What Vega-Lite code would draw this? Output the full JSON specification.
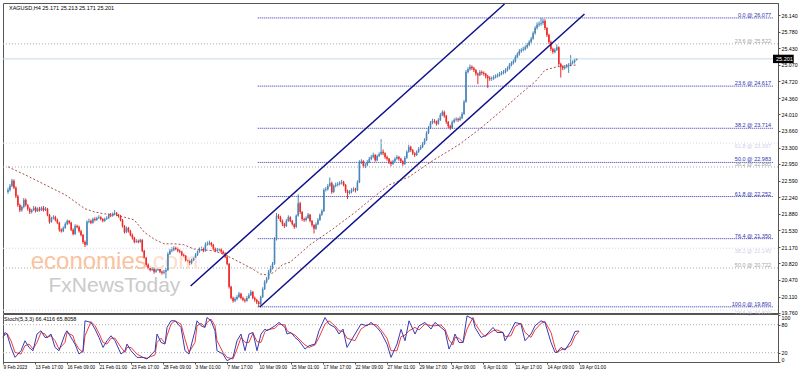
{
"$schema":"https://vega.github.io/schema/vega-lite/v6.json",
"padding":0,
"spacing":1,
"bounds":"flush",
"background":"white",
"config":{"view":{"stroke":"#555","strokeWidth":1},"axis":{"grid":false,"labelFont":"Liberation Sans","labelFontSize":5.3,"labelColor":"#000000","tickSize":2,"tickColor":"#555555","domainColor":"#555555","labelOverlap":false,"labelFlush":false,"labelBound":false}},
"datasets":{
"bars":[
{"i":0,"o":22.35,"h":22.44,"l":22.31,"c":22.39},{"i":1,"o":22.39,"h":22.52,"l":22.36,"c":22.48},{"i":2,"o":22.48,"h":22.63,"l":22.45,"c":22.59},{"i":3,"o":22.59,"h":22.62,"l":22.41,"c":22.44},{"i":4,"o":22.44,"h":22.47,"l":22.22,"c":22.26},{"i":5,"o":22.26,"h":22.29,"l":22.03,"c":22.07},{"i":6,"o":22.07,"h":22.10,"l":21.92,"c":21.96},{"i":7,"o":21.96,"h":22.06,"l":21.93,"c":22.03},{"i":8,"o":22.03,"h":22.22,"l":22.00,"c":22.18},{"i":9,"o":22.18,"h":22.21,"l":22.04,"c":22.07},
{"i":10,"o":22.07,"h":22.09,"l":21.95,"c":21.99},{"i":11,"o":21.99,"h":22.02,"l":21.88,"c":21.92},{"i":12,"o":21.92,"h":21.99,"l":21.89,"c":21.96},{"i":13,"o":21.96,"h":22.05,"l":21.94,"c":22.01},{"i":14,"o":22.01,"h":22.04,"l":21.91,"c":21.94},{"i":15,"o":21.94,"h":22.02,"l":21.92,"c":21.99},{"i":16,"o":21.99,"h":22.03,"l":21.93,"c":21.96},{"i":17,"o":21.96,"h":22.04,"l":21.94,"c":22.01},{"i":18,"o":22.01,"h":22.05,"l":21.93,"c":21.96},{"i":19,"o":21.96,"h":22.03,"l":21.94,"c":21.99},
{"i":20,"o":21.99,"h":22.01,"l":21.83,"c":21.86},{"i":21,"o":21.86,"h":21.88,"l":21.67,"c":21.71},{"i":22,"o":21.71,"h":21.82,"l":21.69,"c":21.79},{"i":23,"o":21.79,"h":21.85,"l":21.76,"c":21.81},{"i":24,"o":21.81,"h":21.84,"l":21.72,"c":21.75},{"i":25,"o":21.75,"h":21.78,"l":21.66,"c":21.69},{"i":26,"o":21.69,"h":21.71,"l":21.50,"c":21.54},{"i":27,"o":21.54,"h":21.57,"l":21.48,"c":21.51},{"i":28,"o":21.51,"h":21.61,"l":21.49,"c":21.58},{"i":29,"o":21.58,"h":21.70,"l":21.56,"c":21.66},
{"i":30,"o":21.66,"h":21.76,"l":21.64,"c":21.73},{"i":31,"o":21.73,"h":21.75,"l":21.66,"c":21.69},{"i":32,"o":21.69,"h":21.71,"l":21.51,"c":21.54},{"i":33,"o":21.54,"h":21.57,"l":21.42,"c":21.45},{"i":34,"o":21.45,"h":21.66,"l":21.43,"c":21.62},{"i":35,"o":21.62,"h":21.65,"l":21.57,"c":21.60},{"i":36,"o":21.60,"h":21.63,"l":21.48,"c":21.51},{"i":37,"o":21.51,"h":21.54,"l":21.40,"c":21.43},{"i":38,"o":21.43,"h":21.45,"l":21.24,"c":21.28},{"i":39,"o":21.28,"h":21.31,"l":21.17,"c":21.22},
{"i":40,"o":21.22,"h":21.74,"l":21.20,"c":21.71},{"i":41,"o":21.71,"h":21.78,"l":21.68,"c":21.73},{"i":42,"o":21.73,"h":21.76,"l":21.66,"c":21.69},{"i":43,"o":21.69,"h":21.80,"l":21.67,"c":21.77},{"i":44,"o":21.77,"h":21.81,"l":21.72,"c":21.75},{"i":45,"o":21.75,"h":21.82,"l":21.73,"c":21.79},{"i":46,"o":21.79,"h":21.85,"l":21.77,"c":21.81},{"i":47,"o":21.81,"h":21.83,"l":21.74,"c":21.77},{"i":48,"o":21.77,"h":21.79,"l":21.70,"c":21.73},{"i":49,"o":21.73,"h":21.80,"l":21.71,"c":21.77},
{"i":50,"o":21.77,"h":21.83,"l":21.75,"c":21.79},{"i":51,"o":21.79,"h":21.89,"l":21.77,"c":21.86},{"i":52,"o":21.86,"h":21.90,"l":21.81,"c":21.84},{"i":53,"o":21.84,"h":21.91,"l":21.82,"c":21.88},{"i":54,"o":21.88,"h":21.96,"l":21.85,"c":21.90},{"i":55,"o":21.90,"h":21.92,"l":21.83,"c":21.86},{"i":56,"o":21.86,"h":21.88,"l":21.80,"c":21.84},{"i":57,"o":21.84,"h":21.86,"l":21.72,"c":21.75},{"i":58,"o":21.75,"h":21.77,"l":21.59,"c":21.62},{"i":59,"o":21.62,"h":21.64,"l":21.46,"c":21.49},
{"i":60,"o":21.49,"h":21.61,"l":21.47,"c":21.58},{"i":61,"o":21.58,"h":21.60,"l":21.48,"c":21.51},{"i":62,"o":21.51,"h":21.54,"l":21.40,"c":21.43},{"i":63,"o":21.43,"h":21.46,"l":21.33,"c":21.37},{"i":64,"o":21.37,"h":21.39,"l":21.25,"c":21.28},{"i":65,"o":21.28,"h":21.34,"l":21.26,"c":21.30},{"i":66,"o":21.30,"h":21.33,"l":21.25,"c":21.28},{"i":67,"o":21.28,"h":21.35,"l":21.26,"c":21.32},{"i":68,"o":21.32,"h":21.34,"l":21.06,"c":21.09},{"i":69,"o":21.09,"h":21.11,"l":20.91,"c":20.94},
{"i":70,"o":20.94,"h":20.96,"l":20.75,"c":20.79},{"i":71,"o":20.79,"h":20.82,"l":20.69,"c":20.72},{"i":72,"o":20.72,"h":20.75,"l":20.65,"c":20.68},{"i":73,"o":20.68,"h":20.74,"l":20.66,"c":20.70},{"i":74,"o":20.70,"h":20.73,"l":20.60,"c":20.64},{"i":75,"o":20.64,"h":20.71,"l":20.62,"c":20.68},{"i":76,"o":20.68,"h":20.74,"l":20.66,"c":20.70},{"i":77,"o":20.70,"h":20.72,"l":20.61,"c":20.64},{"i":78,"o":20.64,"h":20.67,"l":20.58,"c":20.62},{"i":79,"o":20.62,"h":20.68,"l":20.59,"c":20.64},
{"i":80,"o":20.64,"h":20.72,"l":20.50,"c":20.68},{"i":81,"o":20.68,"h":21.06,"l":20.66,"c":21.02},{"i":82,"o":21.02,"h":21.13,"l":21.00,"c":21.09},{"i":83,"o":21.09,"h":21.17,"l":21.06,"c":21.11},{"i":84,"o":21.11,"h":21.19,"l":21.08,"c":21.15},{"i":85,"o":21.15,"h":21.18,"l":21.10,"c":21.13},{"i":86,"o":21.13,"h":21.16,"l":21.06,"c":21.09},{"i":87,"o":21.09,"h":21.12,"l":21.04,"c":21.07},{"i":88,"o":21.07,"h":21.09,"l":20.97,"c":21.00},{"i":89,"o":21.00,"h":21.03,"l":20.95,"c":20.98},
{"i":90,"o":20.98,"h":21.00,"l":20.86,"c":20.89},{"i":91,"o":20.89,"h":20.92,"l":20.83,"c":20.87},{"i":92,"o":20.87,"h":20.90,"l":20.78,"c":20.83},{"i":93,"o":20.83,"h":20.92,"l":20.80,"c":20.89},{"i":94,"o":20.89,"h":20.98,"l":20.87,"c":20.94},{"i":95,"o":20.94,"h":21.04,"l":20.92,"c":21.00},{"i":96,"o":21.00,"h":21.10,"l":20.98,"c":21.07},{"i":97,"o":21.07,"h":21.16,"l":21.05,"c":21.11},{"i":98,"o":21.11,"h":21.18,"l":21.09,"c":21.13},{"i":99,"o":21.13,"h":21.16,"l":21.06,"c":21.09},
{"i":100,"o":21.09,"h":21.27,"l":21.07,"c":21.22},{"i":101,"o":21.22,"h":21.29,"l":21.20,"c":21.24},{"i":102,"o":21.24,"h":21.31,"l":21.21,"c":21.26},{"i":103,"o":21.26,"h":21.28,"l":21.18,"c":21.22},{"i":104,"o":21.22,"h":21.24,"l":21.10,"c":21.13},{"i":105,"o":21.13,"h":21.16,"l":21.06,"c":21.09},{"i":106,"o":21.09,"h":21.15,"l":21.07,"c":21.11},{"i":107,"o":21.11,"h":21.15,"l":21.08,"c":21.12},{"i":108,"o":21.12,"h":21.14,"l":21.04,"c":21.07},{"i":109,"o":21.07,"h":21.10,"l":21.01,"c":21.04},
{"i":110,"o":21.04,"h":21.06,"l":20.93,"c":20.96},{"i":111,"o":20.96,"h":21.00,"l":20.78,"c":20.81},{"i":112,"o":20.81,"h":20.83,"l":20.28,"c":20.32},{"i":113,"o":20.32,"h":20.34,"l":20.05,"c":20.08},{"i":114,"o":20.08,"h":20.11,"l":19.98,"c":20.02},{"i":115,"o":20.02,"h":20.10,"l":19.99,"c":20.06},{"i":116,"o":20.06,"h":20.14,"l":20.03,"c":20.10},{"i":117,"o":20.10,"h":20.21,"l":20.08,"c":20.17},{"i":118,"o":20.17,"h":20.19,"l":20.05,"c":20.08},{"i":119,"o":20.08,"h":20.11,"l":20.01,"c":20.04},
{"i":120,"o":20.04,"h":20.07,"l":19.98,"c":20.02},{"i":121,"o":20.02,"h":20.12,"l":20.00,"c":20.08},{"i":122,"o":20.08,"h":20.18,"l":20.06,"c":20.14},{"i":123,"o":20.14,"h":20.25,"l":20.12,"c":20.21},{"i":124,"o":20.21,"h":20.23,"l":20.05,"c":20.08},{"i":125,"o":20.08,"h":20.11,"l":20.00,"c":20.04},{"i":126,"o":20.04,"h":20.06,"l":19.95,"c":19.99},{"i":127,"o":19.99,"h":20.02,"l":19.89,"c":19.95},{"i":128,"o":19.95,"h":20.13,"l":19.93,"c":20.10},{"i":129,"o":20.10,"h":20.31,"l":20.08,"c":20.27},
{"i":130,"o":20.27,"h":20.46,"l":20.25,"c":20.42},{"i":131,"o":20.42,"h":20.53,"l":20.39,"c":20.49},{"i":132,"o":20.49,"h":20.68,"l":20.47,"c":20.64},{"i":133,"o":20.64,"h":20.77,"l":20.61,"c":20.72},{"i":134,"o":20.72,"h":20.85,"l":20.69,"c":20.81},{"i":135,"o":20.81,"h":21.38,"l":20.79,"c":21.34},{"i":136,"o":21.34,"h":21.90,"l":21.31,"c":21.84},{"i":137,"o":21.84,"h":21.88,"l":21.77,"c":21.81},{"i":138,"o":21.81,"h":21.84,"l":21.70,"c":21.73},{"i":139,"o":21.73,"h":21.76,"l":21.62,"c":21.66},
{"i":140,"o":21.66,"h":21.69,"l":21.58,"c":21.62},{"i":141,"o":21.62,"h":21.77,"l":21.60,"c":21.73},{"i":142,"o":21.73,"h":21.85,"l":21.71,"c":21.81},{"i":143,"o":21.81,"h":21.83,"l":21.70,"c":21.73},{"i":144,"o":21.73,"h":21.75,"l":21.63,"c":21.66},{"i":145,"o":21.66,"h":21.68,"l":21.56,"c":21.60},{"i":146,"o":21.60,"h":21.87,"l":21.58,"c":21.84},{"i":147,"o":21.84,"h":22.30,"l":21.82,"c":22.11},{"i":148,"o":22.11,"h":22.14,"l":21.88,"c":21.92},{"i":149,"o":21.92,"h":21.94,"l":21.73,"c":21.77},
{"i":150,"o":21.77,"h":21.80,"l":21.71,"c":21.75},{"i":151,"o":21.75,"h":21.83,"l":21.72,"c":21.79},{"i":152,"o":21.79,"h":21.90,"l":21.77,"c":21.86},{"i":153,"o":21.86,"h":21.88,"l":21.70,"c":21.73},{"i":154,"o":21.73,"h":21.75,"l":21.60,"c":21.64},{"i":155,"o":21.64,"h":21.66,"l":21.46,"c":21.56},{"i":156,"o":21.56,"h":21.70,"l":21.54,"c":21.66},{"i":157,"o":21.66,"h":21.79,"l":21.64,"c":21.75},{"i":158,"o":21.75,"h":21.89,"l":21.73,"c":21.86},{"i":159,"o":21.86,"h":21.98,"l":21.84,"c":21.94},
{"i":160,"o":21.94,"h":22.43,"l":21.92,"c":22.39},{"i":161,"o":22.39,"h":22.46,"l":22.36,"c":22.41},{"i":162,"o":22.41,"h":22.52,"l":22.38,"c":22.48},{"i":163,"o":22.48,"h":22.66,"l":22.46,"c":22.54},{"i":164,"o":22.54,"h":22.57,"l":22.31,"c":22.35},{"i":165,"o":22.35,"h":22.51,"l":22.33,"c":22.48},{"i":166,"o":22.48,"h":22.55,"l":22.45,"c":22.50},{"i":167,"o":22.50,"h":22.56,"l":22.47,"c":22.52},{"i":168,"o":22.52,"h":22.58,"l":22.49,"c":22.54},{"i":169,"o":22.54,"h":22.61,"l":22.51,"c":22.56},
{"i":170,"o":22.56,"h":22.59,"l":22.47,"c":22.50},{"i":171,"o":22.50,"h":22.52,"l":22.33,"c":22.37},{"i":172,"o":22.37,"h":22.40,"l":22.20,"c":22.33},{"i":173,"o":22.33,"h":22.39,"l":22.30,"c":22.35},{"i":174,"o":22.35,"h":22.43,"l":22.32,"c":22.39},{"i":175,"o":22.39,"h":22.45,"l":22.36,"c":22.41},{"i":176,"o":22.41,"h":22.44,"l":22.34,"c":22.39},{"i":177,"o":22.39,"h":22.60,"l":22.37,"c":22.56},{"i":178,"o":22.56,"h":23.03,"l":22.54,"c":22.99},{"i":179,"o":22.99,"h":23.05,"l":22.95,"c":23.01},
{"i":180,"o":23.01,"h":23.03,"l":22.87,"c":22.91},{"i":181,"o":22.91,"h":22.97,"l":22.86,"c":22.93},{"i":182,"o":22.93,"h":23.03,"l":22.90,"c":22.99},{"i":183,"o":22.99,"h":23.10,"l":22.97,"c":23.06},{"i":184,"o":23.06,"h":23.14,"l":23.03,"c":23.10},{"i":185,"o":23.10,"h":23.19,"l":23.07,"c":23.14},{"i":186,"o":23.14,"h":23.16,"l":23.00,"c":23.03},{"i":187,"o":23.03,"h":23.15,"l":23.01,"c":23.12},{"i":188,"o":23.12,"h":23.20,"l":23.10,"c":23.16},{"i":189,"o":23.16,"h":23.48,"l":23.14,"c":23.21},
{"i":190,"o":23.21,"h":23.26,"l":23.14,"c":23.18},{"i":191,"o":23.18,"h":23.20,"l":23.06,"c":23.10},{"i":192,"o":23.10,"h":23.13,"l":23.02,"c":23.06},{"i":193,"o":23.06,"h":23.08,"l":22.95,"c":22.99},{"i":194,"o":22.99,"h":23.02,"l":22.90,"c":22.95},{"i":195,"o":22.95,"h":23.04,"l":22.93,"c":23.01},{"i":196,"o":23.01,"h":23.09,"l":22.99,"c":23.06},{"i":197,"o":23.06,"h":23.14,"l":23.04,"c":23.10},{"i":198,"o":23.10,"h":23.12,"l":23.02,"c":23.06},{"i":199,"o":23.06,"h":23.08,"l":22.97,"c":23.01},
{"i":200,"o":23.01,"h":23.03,"l":22.91,"c":22.95},{"i":201,"o":22.95,"h":23.12,"l":22.93,"c":23.08},{"i":202,"o":23.08,"h":23.24,"l":23.06,"c":23.21},{"i":203,"o":23.21,"h":23.36,"l":23.19,"c":23.31},{"i":204,"o":23.31,"h":23.34,"l":23.21,"c":23.25},{"i":205,"o":23.25,"h":23.27,"l":23.14,"c":23.18},{"i":206,"o":23.18,"h":23.20,"l":23.10,"c":23.14},{"i":207,"o":23.14,"h":23.24,"l":23.12,"c":23.21},{"i":208,"o":23.21,"h":23.31,"l":23.19,"c":23.27},{"i":209,"o":23.27,"h":23.35,"l":23.25,"c":23.31},
{"i":210,"o":23.31,"h":23.42,"l":23.29,"c":23.38},{"i":211,"o":23.38,"h":23.50,"l":23.36,"c":23.46},{"i":212,"o":23.46,"h":23.65,"l":23.44,"c":23.61},{"i":213,"o":23.61,"h":23.76,"l":23.59,"c":23.72},{"i":214,"o":23.72,"h":23.87,"l":23.70,"c":23.83},{"i":215,"o":23.83,"h":23.92,"l":23.80,"c":23.87},{"i":216,"o":23.87,"h":23.91,"l":23.82,"c":23.86},{"i":217,"o":23.86,"h":23.88,"l":23.77,"c":23.81},{"i":218,"o":23.81,"h":23.93,"l":23.79,"c":23.89},{"i":219,"o":23.89,"h":24.04,"l":23.87,"c":24.00},
{"i":220,"o":24.00,"h":24.10,"l":23.97,"c":24.06},{"i":221,"o":24.06,"h":24.09,"l":23.94,"c":23.98},{"i":222,"o":23.98,"h":24.00,"l":23.81,"c":23.85},{"i":223,"o":23.85,"h":23.87,"l":23.72,"c":23.76},{"i":224,"o":23.76,"h":23.79,"l":23.68,"c":23.72},{"i":225,"o":23.72,"h":23.88,"l":23.70,"c":23.85},{"i":226,"o":23.85,"h":23.93,"l":23.82,"c":23.89},{"i":227,"o":23.89,"h":23.95,"l":23.86,"c":23.91},{"i":228,"o":23.91,"h":23.94,"l":23.85,"c":23.89},{"i":229,"o":23.89,"h":23.97,"l":23.87,"c":23.93},
{"i":230,"o":23.93,"h":24.06,"l":23.91,"c":24.02},{"i":231,"o":24.02,"h":24.32,"l":24.00,"c":24.28},{"i":232,"o":24.28,"h":24.96,"l":24.26,"c":24.92},{"i":233,"o":24.92,"h":25.02,"l":24.89,"c":24.98},{"i":234,"o":24.98,"h":25.08,"l":24.95,"c":25.03},{"i":235,"o":25.03,"h":25.06,"l":24.96,"c":25.00},{"i":236,"o":25.00,"h":25.03,"l":24.92,"c":24.96},{"i":237,"o":24.96,"h":24.98,"l":24.84,"c":24.88},{"i":238,"o":24.88,"h":24.91,"l":24.66,"c":24.85},{"i":239,"o":24.85,"h":24.96,"l":24.83,"c":24.92},
{"i":240,"o":24.92,"h":24.95,"l":24.86,"c":24.90},{"i":241,"o":24.90,"h":24.93,"l":24.84,"c":24.88},{"i":242,"o":24.88,"h":24.90,"l":24.78,"c":24.83},{"i":243,"o":24.83,"h":24.86,"l":24.58,"c":24.79},{"i":244,"o":24.79,"h":24.83,"l":24.73,"c":24.77},{"i":245,"o":24.77,"h":24.82,"l":24.73,"c":24.78},{"i":246,"o":24.78,"h":24.85,"l":24.75,"c":24.81},{"i":247,"o":24.81,"h":24.87,"l":24.78,"c":24.83},{"i":248,"o":24.83,"h":24.89,"l":24.80,"c":24.85},{"i":249,"o":24.85,"h":24.92,"l":24.82,"c":24.88},
{"i":250,"o":24.88,"h":24.94,"l":24.85,"c":24.90},{"i":251,"o":24.90,"h":24.96,"l":24.87,"c":24.92},{"i":252,"o":24.92,"h":25.00,"l":24.89,"c":24.96},{"i":253,"o":24.96,"h":25.04,"l":24.93,"c":25.00},{"i":254,"o":25.00,"h":25.11,"l":24.97,"c":25.07},{"i":255,"o":25.07,"h":25.15,"l":25.04,"c":25.11},{"i":256,"o":25.11,"h":25.19,"l":25.08,"c":25.15},{"i":257,"o":25.15,"h":25.28,"l":25.12,"c":25.24},{"i":258,"o":25.24,"h":25.34,"l":25.21,"c":25.30},{"i":259,"o":25.30,"h":25.41,"l":25.27,"c":25.37},
{"i":260,"o":25.37,"h":25.43,"l":25.33,"c":25.39},{"i":261,"o":25.39,"h":25.46,"l":25.36,"c":25.41},{"i":262,"o":25.41,"h":25.49,"l":25.38,"c":25.45},{"i":263,"o":25.45,"h":25.54,"l":25.42,"c":25.50},{"i":264,"o":25.50,"h":25.60,"l":25.47,"c":25.56},{"i":265,"o":25.56,"h":25.67,"l":25.53,"c":25.63},{"i":266,"o":25.63,"h":25.79,"l":25.61,"c":25.75},{"i":267,"o":25.75,"h":25.90,"l":25.72,"c":25.86},{"i":268,"o":25.86,"h":25.98,"l":25.83,"c":25.93},{"i":269,"o":25.93,"h":26.00,"l":25.89,"c":25.95},
{"i":270,"o":25.95,"h":26.077,"l":25.91,"c":25.97},{"i":271,"o":25.97,"h":26.06,"l":25.93,"c":26.01},{"i":272,"o":26.01,"h":26.05,"l":25.82,"c":25.86},{"i":273,"o":25.86,"h":25.88,"l":25.67,"c":25.71},{"i":274,"o":25.71,"h":25.74,"l":25.52,"c":25.56},{"i":275,"o":25.56,"h":25.59,"l":25.37,"c":25.41},{"i":276,"o":25.41,"h":25.44,"l":25.31,"c":25.35},{"i":277,"o":25.35,"h":25.43,"l":25.32,"c":25.39},{"i":278,"o":25.39,"h":25.51,"l":25.37,"c":25.45},{"i":279,"o":25.45,"h":25.47,"l":25.05,"c":25.09},
{"i":280,"o":25.09,"h":25.12,"l":24.80,"c":25.03},{"i":281,"o":25.03,"h":25.06,"l":24.96,"c":25.00},{"i":282,"o":25.00,"h":25.07,"l":24.97,"c":25.03},{"i":283,"o":25.03,"h":25.09,"l":25.00,"c":25.05},{"i":284,"o":25.05,"h":25.11,"l":24.90,"c":25.07},{"i":285,"o":25.07,"h":25.28,"l":25.04,"c":25.11},{"i":286,"o":25.11,"h":25.17,"l":25.08,"c":25.13},{"i":287,"o":25.13,"h":25.21,"l":25.10,"c":25.171},{"i":288,"o":25.171,"h":25.213,"l":25.171,"c":25.201}
],
"ma":[
{"i":0,"p":22.89},{"i":9,"p":22.71},{"i":19,"p":22.50},{"i":29,"p":22.29},{"i":39,"p":21.99},{"i":44,"p":21.92},{"i":49,"p":21.88},{"i":54,"p":21.86},{"i":59,"p":21.81},{"i":64,"p":21.75},{"i":69,"p":21.49},{"i":74,"p":21.34},{"i":79,"p":21.24},{"i":84,"p":21.24},{"i":89,"p":21.22},{"i":94,"p":21.13},{"i":99,"p":21.11},{"i":104,"p":21.09},{"i":109,"p":21.02},{"i":114,"p":20.92},{"i":119,"p":20.81},{"i":124,"p":20.70},{"i":128,"p":20.59},{"i":132,"p":20.57},{"i":135,"p":20.64},{"i":139,"p":20.79},{"i":143,"p":20.85},{"i":153,"p":21.22},{"i":164,"p":21.54},{"i":176,"p":21.92},{"i":184,"p":22.20},{"i":193,"p":22.50},{"i":203,"p":22.67},{"i":214,"p":22.99},{"i":229,"p":23.38},{"i":239,"p":23.70},{"i":251,"p":24.13},{"i":259,"p":24.43},{"i":267,"p":24.71},{"i":272,"p":24.96},{"i":278,"p":25.03},{"i":288,"p":25.07}
],
"channel":[
{"line":"upper","i":92.5,"p":20.337},{"line":"upper","i":251.5,"p":26.375},{"line":"lower","i":127.5,"p":19.887},{"line":"lower","i":292,"p":26.161}
],
"fibBlue":[
{"p":26.077,"t":"0.0 @ 26.077"},{"p":24.617,"t":"23.6 @ 24.617"},{"p":23.714,"t":"38.2 @ 23.714"},{"p":22.983,"t":"50.0 @ 22.983"},{"p":22.252,"t":"61.8 @ 22.252"},{"p":21.350,"t":"76.4 @ 21.350"},{"p":19.890,"t":"100.0 @ 19.890"}
],
"fibGrey":[
{"p":25.522,"t":"23.6 @ 25.522"},{"p":22.885,"t":"38.2 @ 22.885"},{"p":20.722,"t":"50.0 @ 20.722"}
],
"fibFaint":[
{"p":23.397,"t":"61.8 @ 23.397"},{"p":21.145,"t":"38.2 @ 21.145"},{"p":19.82,"t":"23.6 @ 19.820"}
],
"stochK":[
{"i":0,"v":52.7},{"i":1,"v":63.4},{"i":2,"v":60},{"i":4,"v":31.3},{"i":6,"v":9.9},{"i":9,"v":24.2},{"i":11,"v":45.6},{"i":13,"v":31.3},{"i":15,"v":24.2},{"i":17,"v":60},{"i":19,"v":67},{"i":21,"v":52.7},{"i":22,"v":52.7},{"i":24,"v":60},{"i":26,"v":31.3},{"i":28,"v":24.2},{"i":31,"v":60},{"i":32,"v":67},{"i":35,"v":45.6},{"i":36,"v":38.5},{"i":38,"v":17.1},{"i":40,"v":24.2},{"i":41,"v":88.4},{"i":44,"v":84.9},{"i":46,"v":70.7},{"i":48,"v":52.7},{"i":50,"v":31.3},{"i":52,"v":45.6},{"i":54,"v":56.3},{"i":56,"v":45.6},{"i":59,"v":17.1},{"i":61,"v":24.2},{"i":62,"v":38.5},{"i":64,"v":24.2},{"i":67,"v":9.9},{"i":70,"v":9.9},{"i":72,"v":6.4},{"i":76,"v":24.2},{"i":77,"v":60},{"i":79,"v":42},{"i":81,"v":38.5},{"i":82,"v":74.1},{"i":84,"v":88.4},{"i":86,"v":88.4},{"i":89,"v":74.1},{"i":91,"v":24.2},{"i":93,"v":17.1},{"i":96,"v":67},{"i":97,"v":88.4},{"i":99,"v":77.7},{"i":101,"v":74.1},{"i":102,"v":95.5},{"i":104,"v":88.4},{"i":106,"v":67},{"i":107,"v":24.2},{"i":110,"v":17.1},{"i":112,"v":2.8},{"i":115,"v":9.9},{"i":117,"v":45.6},{"i":119,"v":60},{"i":121,"v":24.2},{"i":123,"v":60},{"i":125,"v":63.4},{"i":127,"v":24.2},{"i":129,"v":60},{"i":131,"v":70.7},{"i":132,"v":67},{"i":136,"v":77.7},{"i":138,"v":84.9},{"i":141,"v":74.1},{"i":142,"v":60},{"i":144,"v":63.4},{"i":146,"v":52.7},{"i":148,"v":45.6},{"i":151,"v":27.8},{"i":153,"v":34.9},{"i":156,"v":38.5},{"i":158,"v":67},{"i":161,"v":95.5},{"i":163,"v":81.4},{"i":166,"v":74.1},{"i":168,"v":60},{"i":170,"v":70.7},{"i":172,"v":31.3},{"i":176,"v":60},{"i":179,"v":81.4},{"i":182,"v":77.7},{"i":184,"v":84.9},{"i":187,"v":74.1},{"i":189,"v":63.4},{"i":192,"v":38.5},{"i":194,"v":9.9},{"i":197,"v":38.5},{"i":199,"v":70},{"i":201,"v":45.6},{"i":203,"v":88.4},{"i":206,"v":60},{"i":208,"v":77.7},{"i":211,"v":84.9},{"i":214,"v":70.7},{"i":216,"v":84.9},{"i":219,"v":74.1},{"i":221,"v":67},{"i":223,"v":27.8},{"i":225,"v":45.6},{"i":226,"v":60},{"i":228,"v":42},{"i":230,"v":42},{"i":232,"v":99},{"i":235,"v":92},{"i":236,"v":74.1},{"i":239,"v":52.7},{"i":241,"v":56.3},{"i":242,"v":60},{"i":245,"v":74.1},{"i":247,"v":63.4},{"i":250,"v":63.4},{"i":251,"v":45.6},{"i":254,"v":67},{"i":256,"v":84.9},{"i":259,"v":81.4},{"i":261,"v":45.6},{"i":264,"v":60},{"i":266,"v":77.7},{"i":269,"v":88.4},{"i":271,"v":84.9},{"i":274,"v":42},{"i":276,"v":20.6},{"i":277,"v":20.6},{"i":279,"v":31.3},{"i":281,"v":25.6},{"i":284,"v":45.6},{"i":286,"v":65.6},{"i":288,"v":66.4}
],
"stochD":[
{"i":0,"v":55},{"i":1,"v":58},{"i":2,"v":61.7},{"i":4,"v":45.7},{"i":6,"v":20.6},{"i":9,"v":17},{"i":11,"v":35},{"i":13,"v":38.5},{"i":15,"v":27.8},{"i":17,"v":42},{"i":19,"v":63.5},{"i":21,"v":60},{"i":22,"v":52.7},{"i":24,"v":56.4},{"i":26,"v":45.7},{"i":28,"v":27.8},{"i":31,"v":42},{"i":32,"v":63.5},{"i":35,"v":56.3},{"i":36,"v":42},{"i":38,"v":27.8},{"i":40,"v":20.6},{"i":41,"v":56.3},{"i":44,"v":86.6},{"i":46,"v":77.8},{"i":48,"v":61.7},{"i":50,"v":42},{"i":52,"v":38.5},{"i":54,"v":51},{"i":56,"v":51},{"i":59,"v":31.3},{"i":61,"v":20.6},{"i":62,"v":31.3},{"i":64,"v":31.3},{"i":67,"v":17},{"i":70,"v":9.9},{"i":72,"v":8.2},{"i":76,"v":15.3},{"i":77,"v":42},{"i":79,"v":51},{"i":81,"v":40.3},{"i":82,"v":56.3},{"i":84,"v":81.3},{"i":86,"v":88.4},{"i":89,"v":81.3},{"i":91,"v":49.2},{"i":93,"v":20.6},{"i":96,"v":42},{"i":97,"v":77.7},{"i":99,"v":83},{"i":101,"v":75.9},{"i":102,"v":84.8},{"i":104,"v":92},{"i":106,"v":77.7},{"i":107,"v":45.6},{"i":110,"v":20.6},{"i":112,"v":10},{"i":115,"v":6.4},{"i":117,"v":27.8},{"i":119,"v":52.8},{"i":121,"v":42.1},{"i":123,"v":42.1},{"i":125,"v":61.7},{"i":127,"v":43.8},{"i":129,"v":42.1},{"i":131,"v":65.4},{"i":132,"v":68.9},{"i":136,"v":72.4},{"i":138,"v":81.3},{"i":141,"v":79.5},{"i":142,"v":67},{"i":144,"v":61.7},{"i":146,"v":58},{"i":148,"v":49.2},{"i":151,"v":36.7},{"i":153,"v":31.3},{"i":156,"v":36.7},{"i":158,"v":52.7},{"i":161,"v":81.3},{"i":163,"v":88.4},{"i":166,"v":77.8},{"i":168,"v":67},{"i":170,"v":65.4},{"i":172,"v":51},{"i":176,"v":45.7},{"i":179,"v":70.7},{"i":182,"v":79.5},{"i":184,"v":81.3},{"i":187,"v":79.5},{"i":189,"v":68.8},{"i":192,"v":51},{"i":194,"v":24.2},{"i":197,"v":24.2},{"i":199,"v":54.3},{"i":201,"v":57.8},{"i":203,"v":67},{"i":206,"v":74.2},{"i":208,"v":68.9},{"i":211,"v":81.3},{"i":214,"v":77.8},{"i":216,"v":77.8},{"i":219,"v":79.5},{"i":221,"v":70.5},{"i":223,"v":47.4},{"i":225,"v":36.7},{"i":226,"v":52.8},{"i":228,"v":51},{"i":230,"v":42},{"i":232,"v":70.5},{"i":235,"v":95.5},{"i":236,"v":83},{"i":239,"v":63.4},{"i":241,"v":54.5},{"i":242,"v":58},{"i":245,"v":67},{"i":247,"v":68.8},{"i":250,"v":63.4},{"i":251,"v":54.5},{"i":254,"v":56.3},{"i":256,"v":76},{"i":259,"v":83.2},{"i":261,"v":63.5},{"i":264,"v":52.8},{"i":266,"v":68.9},{"i":269,"v":83},{"i":271,"v":86.7},{"i":274,"v":63.5},{"i":276,"v":31.3},{"i":277,"v":20.6},{"i":279,"v":26},{"i":281,"v":28.5},{"i":284,"v":35.6},{"i":286,"v":55.6},{"i":288,"v":65.8}
]
},
"vconcat":[
{
"width":775,"height":310,
"resolve":{"axis":{"x":"independent","y":"independent"}},
"layer":[
{"data":{"name":"bars"},"mark":{"type":"rule","strokeWidth":1},"encoding":{"x":{"field":"i","type":"quantitative","scale":{"domain":[0,387.5],"nice":false,"zero":false},"axis":null},"y":{"field":"l","type":"quantitative","scale":{"domain":[19.758,26.397],"nice":false,"zero":false},"title":null,"axis":{"orient":"right","values":[26.14,25.78,25.43,25.07,24.72,24.36,24.01,23.66,23.3,22.95,22.59,22.24,21.88,21.53,21.17,20.82,20.47,20.11,19.76],"format":".3f","title":null,"labelPadding":1,"labelOverlap":false,"labelFlush":false,"labelBound":false}},"y2":{"field":"h"},"color":{"condition":{"test":"datum.c >= datum.o","value":"#4a86b8"},"value":"#f02828"}}},
{"data":{"name":"fibGrey"},"mark":{"type":"rule","color":"#a8a8a8","strokeDash":[1,2],"strokeWidth":1},"encoding":{"y":{"field":"p","type":"quantitative","scale":{"domain":[19.758,26.397],"nice":false,"zero":false},"axis":null}}},
{"data":{"name":"fibFaint"},"mark":{"type":"rule","color":"#d6d6f0","strokeDash":[1,2],"strokeWidth":1},"encoding":{"y":{"field":"p","type":"quantitative","scale":{"domain":[19.758,26.397],"nice":false,"zero":false},"axis":null}}},
{"data":{"name":"fibBlue"},"mark":{"type":"rule","color":"#3030b0","strokeDash":[1,1],"strokeWidth":1},"encoding":{"x":{"datum":126.5,"type":"quantitative","scale":{"domain":[0,387.5],"nice":false,"zero":false},"axis":null},"x2":{"datum":387.5},"y":{"field":"p","type":"quantitative","scale":{"domain":[19.758,26.397],"nice":false,"zero":false},"axis":null}}},
{"data":{"values":[{"p":25.201}]},"mark":{"type":"rule","color":"#c4dce6","strokeWidth":1},"encoding":{"y":{"field":"p","type":"quantitative","scale":{"domain":[19.758,26.397],"nice":false,"zero":false},"axis":null}}},
{"data":{"values":[{"t":"economies","i":11.5,"p":20.69}]},"mark":{"type":"text","align":"left","baseline":"alphabetic","fontSize":24,"font":"Liberation Sans","color":"#f9c3a0"},"encoding":{"x":{"field":"i","type":"quantitative","scale":{"domain":[0,387.5],"nice":false,"zero":false},"axis":null},"y":{"field":"p","type":"quantitative","scale":{"domain":[19.758,26.397],"nice":false,"zero":false},"axis":null},"text":{"field":"t"}}},
{"data":{"values":[{"t":".com","i":70,"p":20.69}]},"mark":{"type":"text","align":"left","baseline":"alphabetic","fontSize":24,"font":"Liberation Sans","color":"#fbe0cf"},"encoding":{"x":{"field":"i","type":"quantitative","scale":{"domain":[0,387.5],"nice":false,"zero":false},"axis":null},"y":{"field":"p","type":"quantitative","scale":{"domain":[19.758,26.397],"nice":false,"zero":false},"axis":null},"text":{"field":"t"}}},
{"data":{"values":[{"t":"FxNewsToday","i":20.5,"p":20.21}]},"mark":{"type":"text","align":"left","baseline":"alphabetic","fontSize":21,"font":"Liberation Sans","color":"#cacaca"},"encoding":{"x":{"field":"i","type":"quantitative","scale":{"domain":[0,387.5],"nice":false,"zero":false},"axis":null},"y":{"field":"p","type":"quantitative","scale":{"domain":[19.758,26.397],"nice":false,"zero":false},"axis":null},"text":{"field":"t"}}},
{"data":{"name":"ma"},"mark":{"type":"line","color":"#a8504a","strokeDash":[2,2],"strokeWidth":1},"encoding":{"x":{"field":"i","type":"quantitative","scale":{"domain":[0,387.5],"nice":false,"zero":false},"axis":null},"y":{"field":"p","type":"quantitative","scale":{"domain":[19.758,26.397],"nice":false,"zero":false},"axis":null}}},
{"data":{"name":"bars"},"mark":{"type":"bar","size":1.6},"encoding":{"x":{"field":"i","type":"quantitative","scale":{"domain":[0,387.5],"nice":false,"zero":false},"axis":null},"y":{"field":"o","type":"quantitative","scale":{"domain":[19.758,26.397],"nice":false,"zero":false},"axis":null},"y2":{"field":"c"},"color":{"condition":{"test":"datum.c >= datum.o","value":"#4a86b8"},"value":"#f02828"}}},
{"data":{"name":"channel"},"mark":{"type":"line","color":"#10108a","strokeWidth":1.5},"encoding":{"x":{"field":"i","type":"quantitative","scale":{"domain":[0,387.5],"nice":false,"zero":false},"axis":null},"y":{"field":"p","type":"quantitative","scale":{"domain":[19.758,26.397],"nice":false,"zero":false},"axis":null},"detail":{"field":"line"}}},
{"data":{"name":"fibBlue"},"mark":{"type":"text","align":"right","baseline":"bottom","fontSize":5.5,"font":"Liberation Sans","color":"#3030b0","dx":-2},"encoding":{"x":{"datum":387.5,"type":"quantitative","scale":{"domain":[0,387.5],"nice":false,"zero":false},"axis":null},"y":{"field":"p","type":"quantitative","scale":{"domain":[19.758,26.397],"nice":false,"zero":false},"axis":null},"text":{"field":"t"}}},
{"data":{"name":"fibGrey"},"mark":{"type":"text","align":"right","baseline":"bottom","fontSize":5.5,"font":"Liberation Sans","color":"#a0a0a0","dx":-2},"encoding":{"x":{"datum":387.5,"type":"quantitative","scale":{"domain":[0,387.5],"nice":false,"zero":false},"axis":null},"y":{"field":"p","type":"quantitative","scale":{"domain":[19.758,26.397],"nice":false,"zero":false},"axis":null},"text":{"field":"t"}}},
{"data":{"name":"fibFaint"},"mark":{"type":"text","align":"right","baseline":"top","fontSize":5.5,"font":"Liberation Sans","color":"#d0d0ec","dx":-2,"dy":1},"encoding":{"x":{"datum":387.5,"type":"quantitative","scale":{"domain":[0,387.5],"nice":false,"zero":false},"axis":null},"y":{"field":"p","type":"quantitative","scale":{"domain":[19.758,26.397],"nice":false,"zero":false},"axis":null},"text":{"field":"t"}}},
{"data":{"values":[{"t":"XAGUSD,H4  25.171 25.213 25.171 25.201"}]},"mark":{"type":"text","align":"left","baseline":"middle","fontSize":5.5,"font":"Liberation Sans","color":"#000"},"encoding":{"x":{"datum":0.5,"type":"quantitative","scale":{"domain":[0,387.5],"nice":false,"zero":false},"axis":null},"y":{"datum":26.29,"type":"quantitative","scale":{"domain":[19.758,26.397],"nice":false,"zero":false},"axis":null},"text":{"field":"t"}}},
{"data":{"values":[{"t":"25.201"}]},"mark":{"type":"rect","color":"#000"},"encoding":{"x":{"datum":387.5,"type":"quantitative","scale":{"domain":[0,387.5],"nice":false,"zero":false},"axis":null},"x2":{"datum":398},"y":{"datum":25.29,"type":"quantitative","scale":{"domain":[19.758,26.397],"nice":false,"zero":false},"axis":null},"y2":{"datum":25.11}}},
{"data":{"values":[{"t":"25.201"}]},"mark":{"type":"text","align":"left","baseline":"middle","fontSize":5.5,"font":"Liberation Sans","color":"#fff","dx":3},"encoding":{"x":{"datum":387.5,"type":"quantitative","scale":{"domain":[0,387.5],"nice":false,"zero":false},"axis":null},"y":{"datum":25.201,"type":"quantitative","scale":{"domain":[19.758,26.397],"nice":false,"zero":false},"axis":null},"text":{"field":"t"}}}
]
},
{
"width":775,"height":48,
"resolve":{"axis":{"x":"independent","y":"independent"}},
"layer":[
{"data":{"values":[{"v":80},{"v":20}]},"mark":{"type":"rule","color":"#b0b0b0","strokeDash":[1,2]},"encoding":{"y":{"field":"v","type":"quantitative","scale":{"domain":[0,103],"nice":false,"zero":false},"title":null,"axis":{"orient":"right","values":[0,20,80,100],"format":"d","title":null,"labelPadding":1,"labelOverlap":false,"labelBound":false,"labelBaseline":{"condition":{"test":"datum.value == 100","value":"top"},"value":"middle"},"labelOffset":{"condition":{"test":"datum.value == 0","value":-3},"value":0}}}}},
{"data":{"name":"stochD"},"mark":{"type":"line","color":"#f03c3c","strokeWidth":1},"encoding":{"x":{"field":"i","type":"quantitative","scale":{"domain":[0,387.5],"nice":false,"zero":false},"title":null,"axis":{"values":[0,16,32,48,64,80,96,112,128,144,160,176,192,208,224,240,256,272,288],"labelExpr":"['9 Feb 2023','13 Feb 17:00','16 Feb 09:00','21 Feb 01:00','23 Feb 17:00','28 Feb 09:00','3 Mar 01:00','7 Mar 17:00','10 Mar 09:00','15 Mar 01:00','17 Mar 17:00','22 Mar 09:00','27 Mar 01:00','29 Mar 17:00','3 Apr 09:00','6 Apr 01:00','11 Apr 17:00','14 Apr 09:00','19 Apr 01:00'][round(datum.value/16)]","labelAlign":"left","labelPadding":0,"labelFontSize":4.7,"title":null,"labelOverlap":false,"labelFlush":false}},"y":{"field":"v","type":"quantitative","scale":{"domain":[0,103],"nice":false,"zero":false},"axis":null}}},
{"data":{"name":"stochK"},"mark":{"type":"line","color":"#3a3ab4","strokeWidth":1},"encoding":{"x":{"field":"i","type":"quantitative","scale":{"domain":[0,387.5],"nice":false,"zero":false},"axis":null},"y":{"field":"v","type":"quantitative","scale":{"domain":[0,103],"nice":false,"zero":false},"axis":null}}},
{"data":{"values":[{"t":"Stoch(5,3,3) 66.4116 65.8058"}]},"mark":{"type":"text","align":"left","baseline":"middle","fontSize":5.5,"font":"Liberation Sans","color":"#000"},"encoding":{"x":{"datum":0.5,"type":"quantitative","scale":{"domain":[0,387.5],"nice":false,"zero":false},"axis":null},"y":{"datum":92,"type":"quantitative","scale":{"domain":[0,103],"nice":false,"zero":false},"axis":null},"text":{"field":"t"}}}
]
}
]
}
